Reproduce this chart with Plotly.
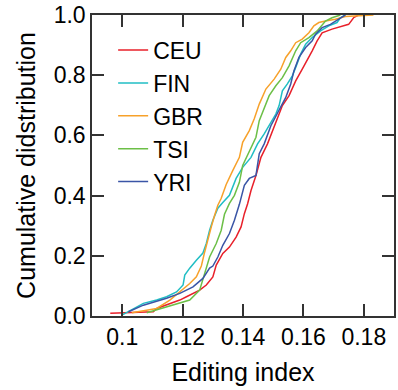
import plotly.graph_objects as go

populations = ["CEU", "FIN", "GBR", "TSI", "YRI"]
colors = ["#e8202a", "#20bec4", "#f7a12a", "#6cbf47", "#3a55a6"]

ceu_x = [0.09605, 0.11029, 0.11141, 0.11470, 0.11907, 0.12128, 0.12565, 0.12785, 0.13002, 0.13114,
         0.13331, 0.13551, 0.13772, 0.13936, 0.14045, 0.14153, 0.14265, 0.14429, 0.14594, 0.14811,
         0.15031, 0.15196, 0.15304, 0.15525, 0.15745, 0.15962, 0.16126, 0.16291, 0.16455, 0.16620,
         0.16948, 0.17277, 0.17498, 0.17662, 0.17826]
ceu_y = [0.009, 0.014, 0.025, 0.036, 0.053, 0.064, 0.086, 0.103, 0.130, 0.169,
         0.208, 0.229, 0.262, 0.296, 0.340, 0.373, 0.417, 0.467, 0.527, 0.572,
         0.627, 0.671, 0.699, 0.732, 0.781, 0.820, 0.848, 0.881, 0.914, 0.941,
         0.953, 0.964, 0.969, 0.991, 1.0]

fin_x = [0.09990, 0.10372, 0.10700, 0.11141, 0.11470, 0.11799, 0.12016, 0.12072, 0.12236, 0.12456,
         0.12673, 0.12785, 0.12894, 0.13002, 0.13167, 0.13331, 0.13551, 0.13772, 0.13989, 0.14265,
         0.14482, 0.14702, 0.14923, 0.15087, 0.15196, 0.15304, 0.15469, 0.15633, 0.15745, 0.15909,
         0.16074, 0.16291, 0.16567, 0.16840, 0.17113, 0.17225, 0.17389]
fin_y = [0.003, 0.025, 0.042, 0.053, 0.064, 0.080, 0.103, 0.136, 0.159, 0.185,
         0.209, 0.241, 0.285, 0.318, 0.358, 0.377, 0.401, 0.457, 0.494, 0.527,
         0.572, 0.605, 0.643, 0.671, 0.699, 0.748, 0.771, 0.798, 0.826, 0.870,
         0.903, 0.925, 0.947, 0.964, 0.975, 0.991, 1.0]

gbr_x = [0.10319, 0.11141, 0.11578, 0.11907, 0.12236, 0.12456, 0.12621, 0.12729, 0.12838, 0.12950,
         0.13058, 0.13167, 0.13279, 0.13443, 0.13660, 0.13880, 0.13989, 0.14209, 0.14373, 0.14538,
         0.14758, 0.15031, 0.15251, 0.15416, 0.15580, 0.15745, 0.15962, 0.16182, 0.16347, 0.16511,
         0.16731, 0.17060, 0.17389, 0.17826, 0.18320]
gbr_y = [0.011, 0.025, 0.053, 0.080, 0.108, 0.130, 0.166, 0.212, 0.257, 0.296,
         0.334, 0.368, 0.391, 0.437, 0.483, 0.527, 0.577, 0.616, 0.655, 0.704,
         0.754, 0.787, 0.820, 0.859, 0.881, 0.908, 0.920, 0.941, 0.964, 0.975,
         0.980, 0.986, 0.995, 0.998, 1.0]

tsi_x = [0.10812, 0.11470, 0.12236, 0.12565, 0.12664, 0.12785, 0.12894, 0.13114, 0.13279, 0.13387,
         0.13551, 0.13716, 0.13880, 0.13989, 0.14209, 0.14429, 0.14538, 0.14702, 0.14867, 0.15087,
         0.15304, 0.15525, 0.15745, 0.15909, 0.16182, 0.16455, 0.16731, 0.16948, 0.17225]
tsi_y = [0.011, 0.031, 0.053, 0.086, 0.119, 0.152, 0.196, 0.241, 0.285, 0.338,
         0.374, 0.401, 0.444, 0.500, 0.550, 0.594, 0.649, 0.693, 0.732, 0.765,
         0.792, 0.831, 0.881, 0.908, 0.925, 0.947, 0.980, 0.991, 1.0]

yri_x = [0.10207, 0.10700, 0.11470, 0.11907, 0.12345, 0.12673, 0.12894, 0.13002, 0.13167, 0.13331,
         0.13551, 0.13716, 0.13880, 0.14045, 0.14209, 0.14429, 0.14538, 0.14702, 0.14923, 0.15196,
         0.15416, 0.15580, 0.15689, 0.15853, 0.16074, 0.16291, 0.16402, 0.16620, 0.16896, 0.17169,
         0.17389]
yri_y = [0.014, 0.036, 0.059, 0.075, 0.097, 0.125, 0.159, 0.166, 0.196, 0.235,
         0.274, 0.318, 0.371, 0.434, 0.457, 0.467, 0.539, 0.572, 0.632, 0.682,
         0.726, 0.771, 0.815, 0.859, 0.892, 0.914, 0.936, 0.958, 0.969, 0.986,
         1.0]

x_tickvals = [0.1, 0.12, 0.14, 0.16, 0.18]
x_ticktext = ["0.1", "0.12", "0.14", "0.16", "0.18"]
y_tickvals = [0.0, 0.2, 0.4, 0.6, 0.8, 1.0]
y_ticktext = ["0.0", "0.2", "0.4", "0.6", "0.8", "1.0"]

series_x = [ceu_x, fin_x, gbr_x, tsi_x, yri_x]
series_y = [ceu_y, fin_y, gbr_y, tsi_y, yri_y]

FONT = "Arial, 'Liberation Sans', sans-serif"

fig = go.Figure()
for name, col, xs, ys in zip(populations, colors, series_x, series_y):
    fig.add_trace(go.Scatter(x=xs, y=ys, mode="lines", name=name,
                             line=dict(color=col, width=1.5)))

axis_common = dict(showline=True, linecolor="#333333", linewidth=1.5, mirror="ticks",
                   ticks="inside", ticklen=12, tickwidth=1.5, tickcolor="#333333",
                   showgrid=False, zeroline=False,
                   tickfont=dict(family=FONT, size=23, color="black"))

fig.update_layout(
    width=398, height=390,
    margin=dict(l=92, r=2, t=14, b=74),
    paper_bgcolor="white", plot_bgcolor="white",
    font=dict(family=FONT, color="black"),
    xaxis=dict(range=[0.09, 0.19], tickvals=x_tickvals, ticktext=x_ticktext,
               title=dict(text="Editing index", font=dict(family=FONT, size=25), standoff=14),
               **axis_common),
    yaxis=dict(range=[0, 1], tickvals=y_tickvals, ticktext=y_ticktext,
               title=dict(text="Cumulative didstribution", font=dict(family=FONT, size=25), standoff=11),
               **axis_common),
    legend=dict(x=0.07, y=0.955, xanchor="left", yanchor="top", bgcolor="rgba(0,0,0,0)",
                font=dict(family=FONT, size=23, color="black"), itemwidth=30),
    showlegend=True,
)

fig.write_html("out.html")
